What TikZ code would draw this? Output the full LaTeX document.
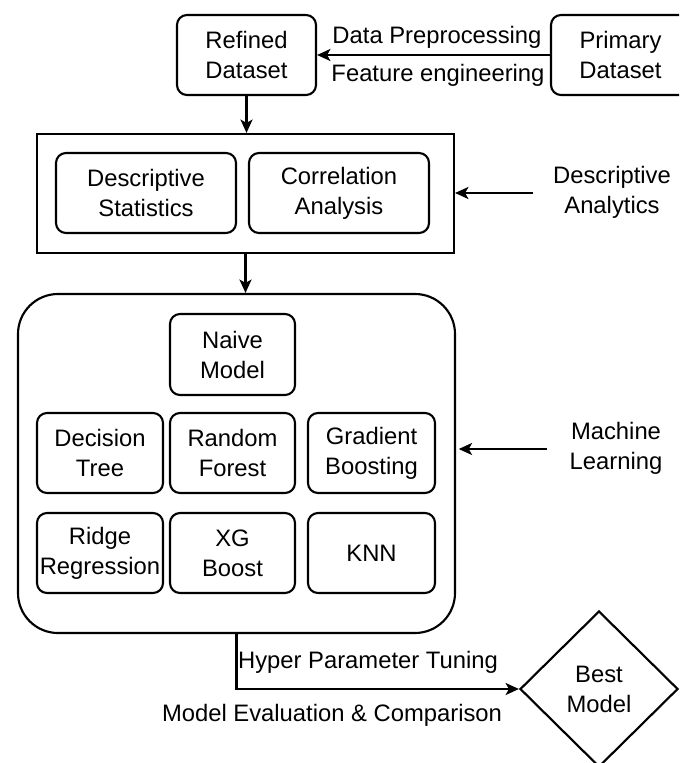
\documentclass[tikz,border=0pt]{standalone}
\usepackage{fontspec}
\setmainfont{Liberation Sans}
\usetikzlibrary{arrows.meta,shapes.geometric,calc}
\newcommand\dfont{\fontsize{17.85pt}{22.5pt}\selectfont}
\begin{document}
\begin{tikzpicture}[x=0.75pt,y=-0.75pt,
  every node/.style={font=\dfont, align=center, inner sep=0pt},
  line/.style={line width=1.6pt, draw=black},
  arr/.style={line, -{Stealth[length=10pt,width=9pt,inset=2.5pt]}},
  rbox/.style={line, rectangle, rounded corners=7.5pt},
  box/.style={line, rectangle}]
\clip (0,0) rectangle (679,763);
\fill[white] (0,0) rectangle (679,763);

% top row
\node[rbox, minimum width=139*0.75pt, minimum height=80*0.75pt] (refined) at (246.5,55) {Refined\\Dataset};
\node[rbox, minimum width=139*0.75pt, minimum height=80*0.75pt] (primary) at (620.5,55) {Primary\\Dataset};
\draw[arr] (primary) -- (refined);
\node (dp) at (437,37) {Data Preprocessing};
\node (fe) at (438,75) {Feature engineering};

% descriptive analytics
\node[box, minimum width=417*0.75pt, minimum height=119*0.75pt] (desc) at (245.5,193.5) {};
\node[rbox, minimum width=180*0.75pt, minimum height=80*0.75pt] (ds) at (146,193) {Descriptive\\Statistics};
\node[rbox, minimum width=180*0.75pt, minimum height=80*0.75pt] (ca) at (339,193) {Correlation\\Analysis};
\draw[arr] (refined.south) -- (refined.south |- desc.north);
\node (da) at (612,192) {Descriptive\\Analytics};
\coordinate (daS) at (533,193);
\draw[arr] (daS) -- (daS -| desc.east);

% machine learning
\node[line, rectangle, rounded corners=30pt, minimum width=437*0.75pt, minimum height=339*0.75pt] (ml) at (236.5,463.5) {};
\draw[arr] (desc.south) -- (desc.south |- ml.north);
\node[rbox, minimum width=125*0.75pt, minimum height=81*0.75pt] (naive) at (232.5,354.5) {Naive\\Model};
\node[rbox, minimum width=126*0.75pt, minimum height=80*0.75pt] (dt) at (100,453) {Decision\\Tree};
\node[rbox, minimum width=125*0.75pt, minimum height=80*0.75pt] (rf) at (232.5,453) {Random\\Forest};
\node[rbox, minimum width=127*0.75pt, minimum height=80*0.75pt] (gb) at (371.5,453) {Gradient\\Boosting};
\node[rbox, minimum width=126*0.75pt, minimum height=80*0.75pt] (rr) at (100,553) {Ridge\\Regression};
\node[rbox, minimum width=125*0.75pt, minimum height=80*0.75pt] (xg) at (232.5,553) {XG\\Boost};
\node[rbox, minimum width=127*0.75pt, minimum height=80*0.75pt] (knn) at (371.5,553) {KNN};
\node (mlt) at (616,448) {Machine\\Learning};
\coordinate (mlS) at (547,449);
\draw[arr, shorten >=2pt] (mlS) -- (mlS -| ml.east);

% best model
\node[line, diamond, minimum width=158*0.75pt, minimum height=156*0.75pt] (best) at (599,689) {Best\\Model};
\draw[arr] (ml.south) |- (best.west);
\node (hpt) at (368,662) {Hyper Parameter Tuning};
\node (mec) at (332,715) {Model Evaluation \& Comparison};
\end{tikzpicture}
\end{document}
